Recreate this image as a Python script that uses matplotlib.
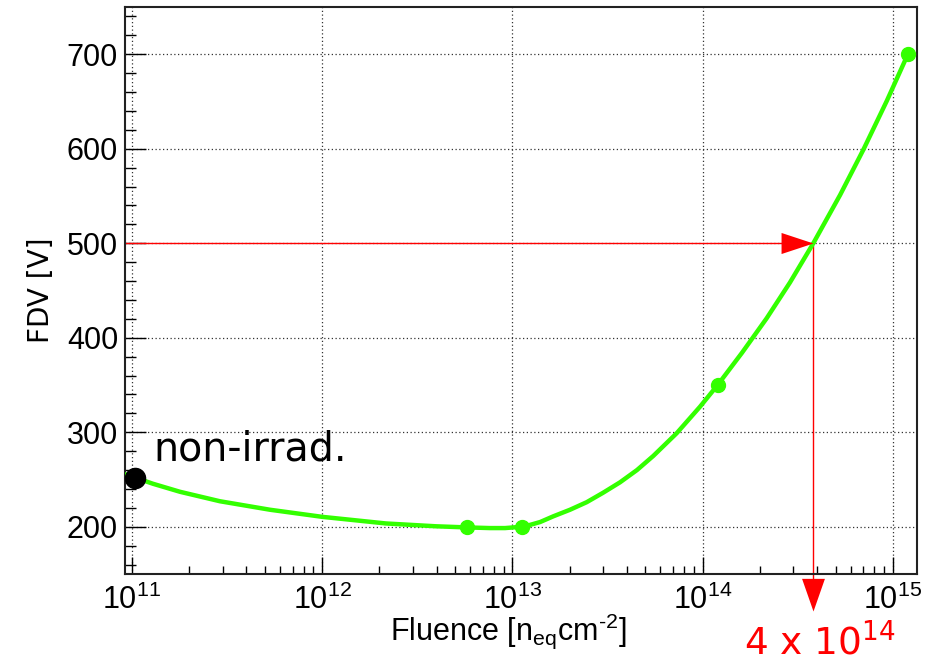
import numpy as np
import matplotlib
matplotlib.use("Agg")
import matplotlib.pyplot as plt
from matplotlib.ticker import LogLocator, MultipleLocator, LogFormatterMathtext, NullFormatter

plt.rcParams['font.family'] = ['Liberation Sans', 'DejaVu Sans']
plt.rcParams['mathtext.fontset'] = 'custom'
plt.rcParams['mathtext.rm'] = 'Liberation Sans'
plt.rcParams['mathtext.it'] = 'Liberation Sans:italic'

# measured points
fluence_pts = [5.75e12, 1.12e13, 1.2e14, 1.2e15]
fdv_pts = [200, 200, 350, 700]
fluence_nonirr = 1.04e11
fdv_nonirr = 252

# fit curve
curve_fluence = [9.19e10, 1.04e11, 1.29e11, 1.79e11, 2.9e11, 5.32e11, 1.0e12, 2.16e12,
                 3.96e12, 5.75e12, 7.63e12, 9.15e12, 1.12e13, 1.24e13, 1.4e13, 1.64e13,
                 2.01e13, 2.46e13, 3.0e13, 3.68e13, 4.52e13, 5.51e13, 7.31e13, 9.69e13,
                 1.2e14, 1.61e14, 2.17e14, 2.88e14, 3.82e14, 5.28e14, 7.0e14, 9.29e14, 1.2e15]
curve_fdv = [255.5, 252, 245.5, 237, 227, 218, 210.5, 203.5,
             200.5, 199.3, 198.6, 198.6, 200, 202, 205, 211,
             218, 226, 236, 247, 260, 275, 299, 327,
             350, 384, 420.5, 458.5, 500, 551, 599, 650.5, 700]

# where the 500 V line meets the curve
cross_fluence = 3.82e14
cross_fdv = 500

xmin, xmax = 9.2e10, 1.34e15
ymin, ymax = 150, 750

fig = plt.figure(figsize=(9.38, 6.64), dpi=100)
ax = fig.add_axes([125/938, 90/664, 792/938, 567/664])
ax.set_xscale('log')
ax.set_xlim(xmin, xmax)
ax.set_ylim(ymin, ymax)

green = '#33ff00'
ax.plot(curve_fluence, curve_fdv, color=green, lw=3.2, zorder=3,
        solid_capstyle='round', solid_joinstyle='round')
ax.plot(fluence_pts, fdv_pts, 'o', color=green, ms=10, zorder=4, clip_on=False)
ax.plot([fluence_nonirr], [fdv_nonirr], 'o', color='black', ms=14.5, zorder=5, clip_on=False)

# red guide lines with arrow heads
ax.plot([xmin, cross_fluence], [cross_fdv, cross_fdv], color='red', lw=1, zorder=2)
right_head = [(0, 0), (-1, 0.33), (-1, -0.33), (0, 0)]
ax.plot([cross_fluence], [cross_fdv], marker=right_head, color='red', ms=46, mew=0, zorder=6)
ax.plot([cross_fluence, cross_fluence], [497, 146], color='red', lw=1, zorder=2, clip_on=False)
down_head = [(0, 0), (-0.35, 1), (0.35, 1), (0, 0)]
ax.plot([cross_fluence], [111], marker=down_head, color='red', ms=47, mew=0, zorder=6, clip_on=False)

ax.text(1.29e11, 270.5, 'non-irrad.', fontsize=28.5, family='DejaVu Sans', va='baseline', ha='left')
fig.text(0.874, 0.014, r'4 x 10$^{14}$', color='red', fontsize=27, ha='center', va='baseline',
         family='DejaVu Sans', math_fontfamily='dejavusans')

# axes styling
ax.xaxis.set_major_locator(LogLocator(base=10, numticks=10))
ax.xaxis.set_minor_locator(LogLocator(base=10, subs=np.arange(2, 10), numticks=20))
ax.xaxis.set_major_formatter(LogFormatterMathtext())
ax.xaxis.set_minor_formatter(NullFormatter())
ax.yaxis.set_major_locator(MultipleLocator(100))
ax.yaxis.set_minor_locator(MultipleLocator(20))

ax.tick_params(axis='x', which='major', direction='in', length=12, width=1, labelsize=22, pad=8)
ax.tick_params(axis='x', which='minor', direction='in', length=6, width=1)
ax.tick_params(axis='y', which='major', direction='in', length=15, width=1, labelsize=22, pad=5)
ax.tick_params(axis='y', which='minor', direction='in', length=8, width=1)
ax.tick_params(top=False, right=False, which='both')

ax.grid(True, which='major', color='#333333', linestyle=(0, (1, 2)), lw=0.9)
for s in ax.spines.values():
    s.set_linewidth(1.5)
    s.set_color('#222222')

ax.set_ylabel('FDV [V]', fontsize=20, family='DejaVu Sans')
ax.yaxis.set_label_coords(-0.089, 0.5)
fig.text(508/938, 0.037, 'Fluence [n$_{\\mathrm{eq}}$cm$^{\\mathrm{\u2010 2}}$]', fontsize=22,
         ha='center', va='baseline')

fig.savefig('out.png', dpi=100)
